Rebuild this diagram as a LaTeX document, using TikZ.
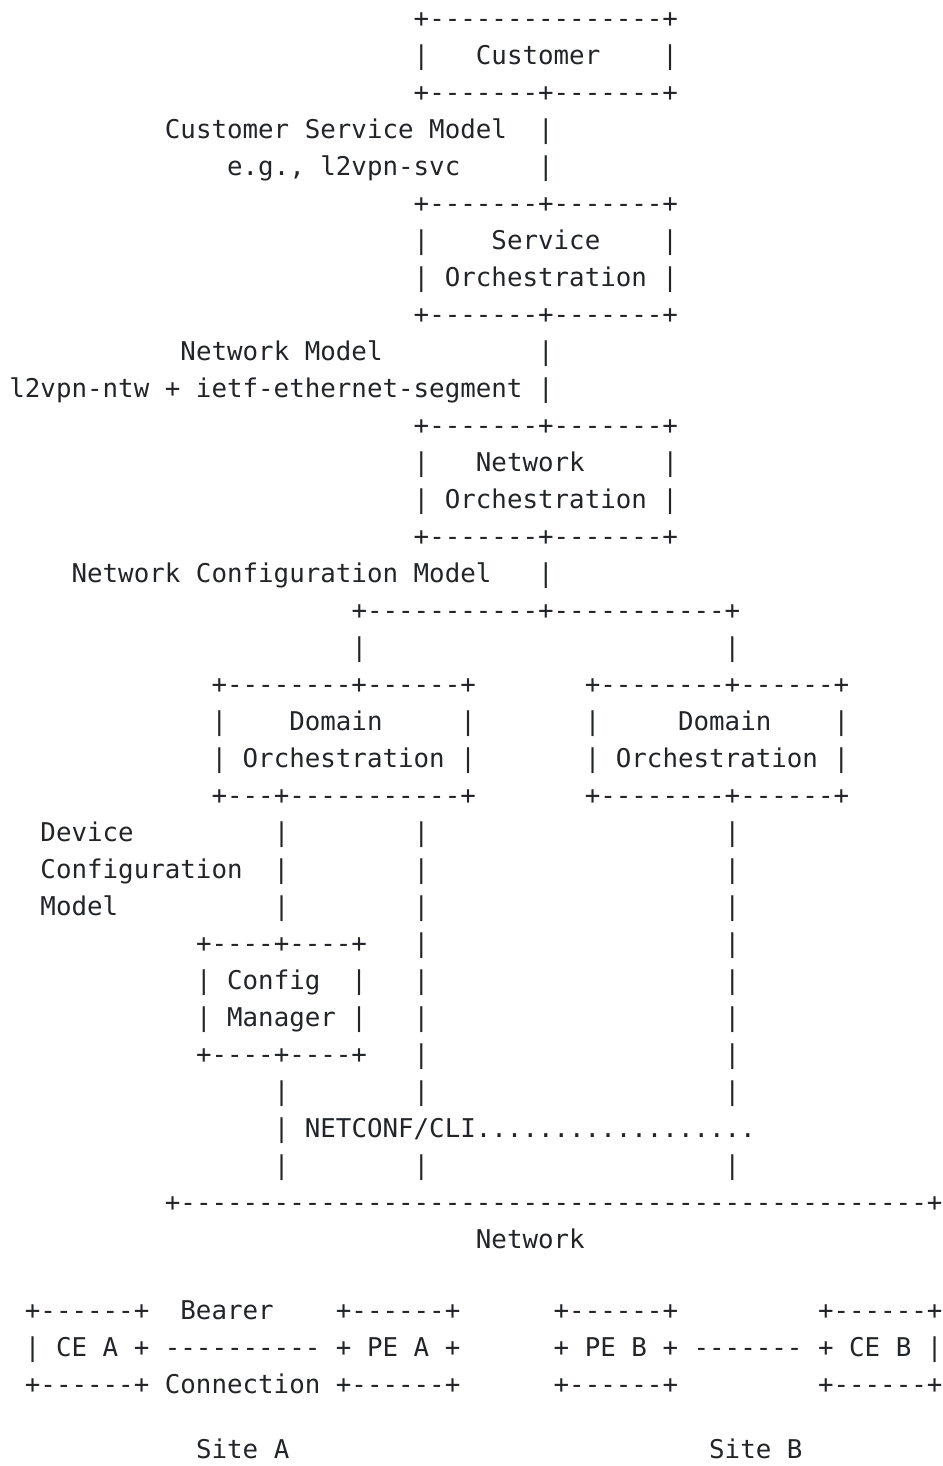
\documentclass[tikz,border=0pt]{standalone}
\usepackage{fontspec}
\setmonofont{DejaVu Sans Mono}
\usepackage{xcolor}
\definecolor{inkgray}{HTML}{212529}
\newlength{\chw}
\setlength{\chw}{7.775pt}
\newcommand{\chsp}[1]{\hspace*{#1\chw}}

\begin{document}
\begin{tikzpicture}[x=7.775pt, y=-18.5pt,
        ascii/.style={anchor=west, inner sep=0pt, text=inkgray, text height=9.415pt, text depth=0pt,
            font=\ttfamily\fontsize{12.915pt}{15pt}\selectfont}
    ]
    \useasboundingbox (-0.5788,-0.4865) rectangle (60,39.135);
    % customer
    \node[ascii] (custtop) at (26,0) {+---------------+};
    \node[ascii] (cust) at (26,1) {|\chsp{3}Customer\chsp{4}|};
    \node[ascii] (custbot) at (26,2) {+-------+-------+};
    \node[ascii] (csmlabel) at (10,3) {Customer Service Model\chsp{2}|};
    \node[ascii] (csmex) at (14,4) {e.g., l2vpn-svc\chsp{5}|};
    % service orchestration
    \node[ascii] (svctop) at (26,5) {+-------+-------+};
    \node[ascii] (svc1) at (26,6) {|\chsp{4}Service\chsp{4}|};
    \node[ascii] (svc2) at (26,7) {| Orchestration |};
    \node[ascii] (svcbot) at (26,8) {+-------+-------+};
    \node[ascii] (nmlabel) at (11,9) {Network Model\chsp{10}|};
    \node[ascii] (nmmods) at (0,10) {l2vpn-ntw + ietf-ethernet-segment |};
    % network orchestration
    \node[ascii] (ntwtop) at (26,11) {+-------+-------+};
    \node[ascii] (ntw1) at (26,12) {|\chsp{3}Network\chsp{5}|};
    \node[ascii] (ntw2) at (26,13) {| Orchestration |};
    \node[ascii] (ntwbot) at (26,14) {+-------+-------+};
    \node[ascii] (nclabel) at (4,15) {Network Configuration Model\chsp{3}|};
    \node[ascii] (split) at (22,16) {+-----------+-----------+};
    \node[ascii] (splitbar) at (22,17) {|\chsp{23}|};
    % domain orchestration
    \node[ascii] (domtop) at (13,18) {+--------+------+\chsp{7}+--------+------+};
    \node[ascii] (dom1) at (13,19) {|\chsp{4}Domain\chsp{5}|\chsp{7}|\chsp{5}Domain\chsp{4}|};
    \node[ascii] (dom2) at (13,20) {| Orchestration |\chsp{7}| Orchestration |};
    \node[ascii] (dombot) at (13,21) {+---+-----------+\chsp{7}+--------+------+};
    \node[ascii] (dev1) at (2,22) {Device\chsp{9}|\chsp{8}|\chsp{19}|};
    \node[ascii] (dev2) at (2,23) {Configuration\chsp{2}|\chsp{8}|\chsp{19}|};
    \node[ascii] (dev3) at (2,24) {Model\chsp{10}|\chsp{8}|\chsp{19}|};
    % config manager
    \node[ascii] (cfgtop) at (12,25) {+----+----+\chsp{3}|\chsp{19}|};
    \node[ascii] (cfg1) at (12,26) {| Config\chsp{2}|\chsp{3}|\chsp{19}|};
    \node[ascii] (cfg2) at (12,27) {| Manager |\chsp{3}|\chsp{19}|};
    \node[ascii] (cfgbot) at (12,28) {+----+----+\chsp{3}|\chsp{19}|};
    \node[ascii] (link1) at (17,29) {|\chsp{8}|\chsp{19}|};
    \node[ascii] (netconf) at (17,30) {| NETCONF/CLI..................};
    \node[ascii] (link2) at (17,31) {|\chsp{8}|\chsp{19}|};
    % network
    \node[ascii] (netline) at (10,32) {+------------------------------------------------+};
    \node[ascii] (netlabel) at (30,33) {Network};
    % sites
    \node[ascii] (sitetop) at (1,34.92) {+------+\chsp{2}Bearer\chsp{4}+------+\chsp{6}+------+\chsp{9}+------+};
    \node[ascii] (sitemid) at (1,35.92) {| CE A + ---------- + PE A +\chsp{6}+ PE B + ------- + CE B |};
    \node[ascii] (sitebot) at (1,36.92) {+------+ Connection +------+\chsp{6}+------+\chsp{9}+------+};
    \node[ascii] (sites) at (12,38.68) {Site A\chsp{27}Site B};
\end{tikzpicture}
\end{document}
